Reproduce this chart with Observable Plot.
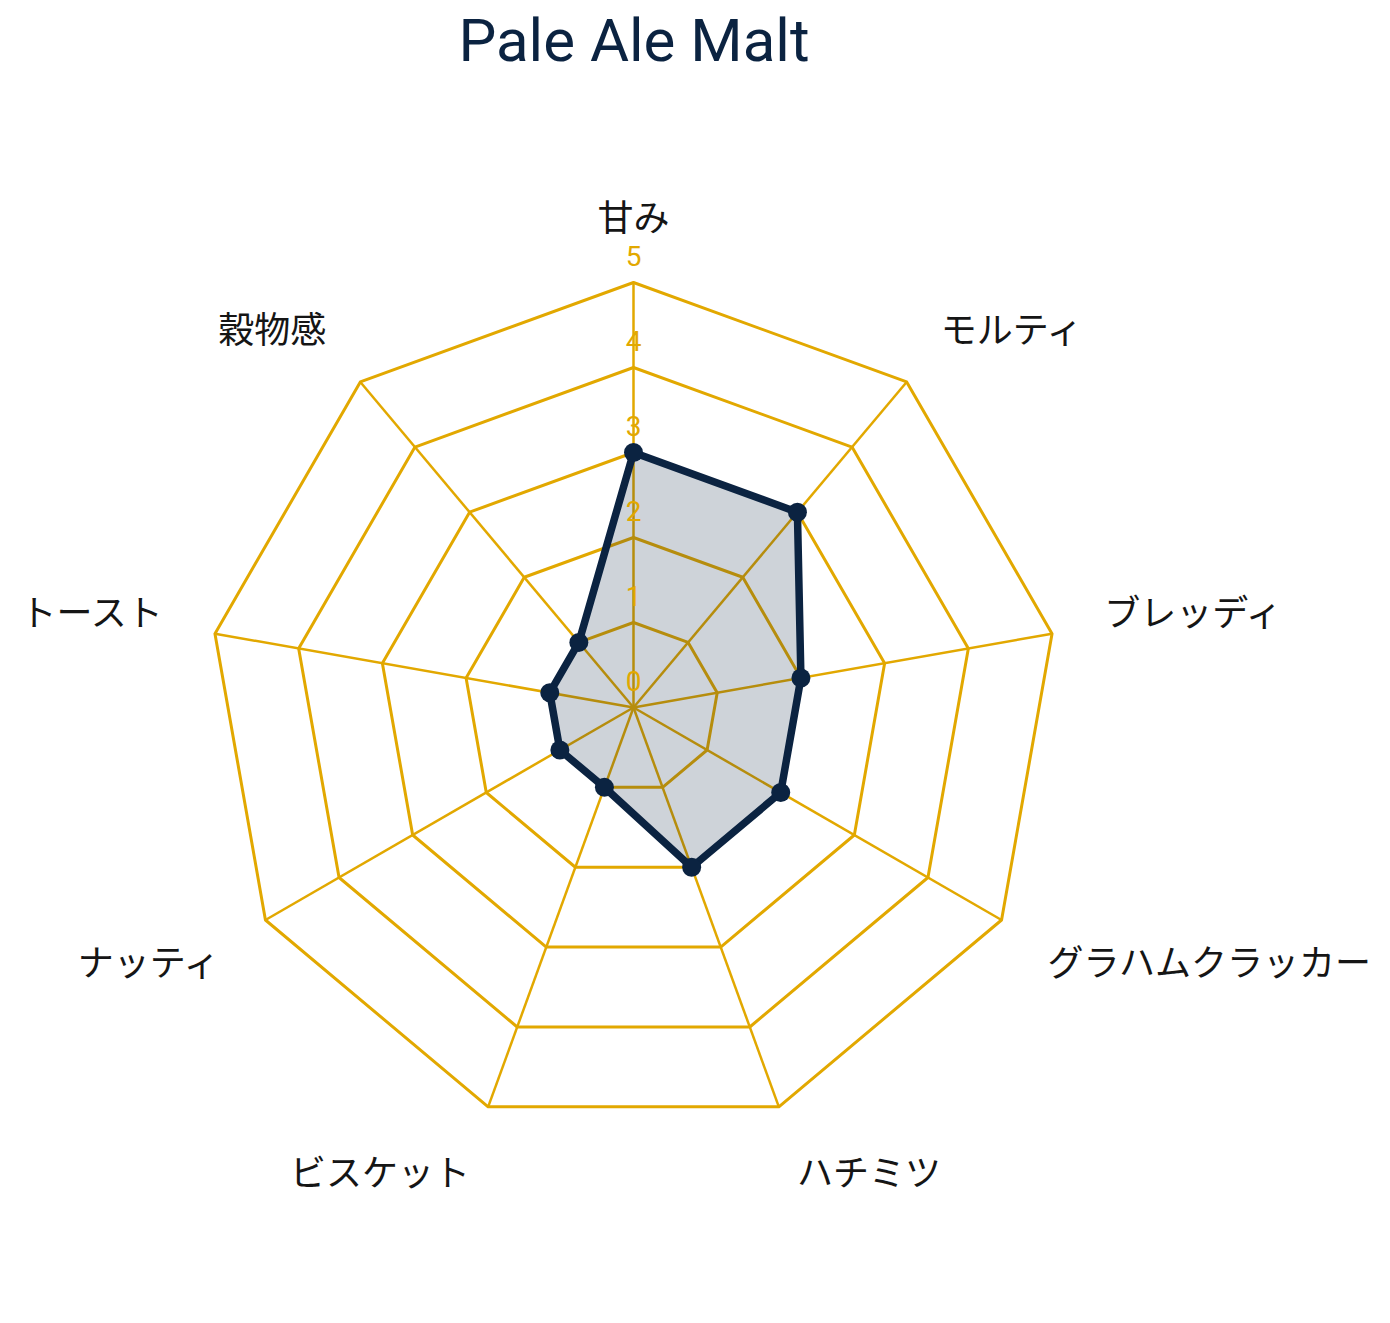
<!DOCTYPE html>
<html>
<head>
<meta charset="utf-8">
<script src="https://cdn.jsdelivr.net/npm/d3@7"></script>
<script src="https://cdn.jsdelivr.net/npm/@observablehq/plot@0.6"></script>
<style>
  html, body { margin: 0; padding: 0; background: #fff; }
  #wrap { position: relative; width: 1390px; height: 1323px; }
  #title { position: absolute; left: 0; top: 5px; width: 1268px; text-align: center;
    font-family: Roboto, "Noto Sans", sans-serif; font-size: 60px; color: #0B2341; line-height: 72px; }
  #chart svg { display: block; }
</style>
</head>
<body>
<div id="wrap">
  <div id="chart"></div>
  <div id="title">Pale Ale Malt</div>
</div>
<script>
const categories = ["甘み", "モルティ", "ブレッディ", "グラハムクラッカー", "ハチミツ", "ビスケット", "ナッティ", "トースト", "穀物感"];
const values = [3, 3, 2, 2, 2, 1, 1, 1, 1];
const ticks = [0, 1, 2, 3, 4, 5];
const maxValue = 5;

const gold = "#E2A800";
const navy = "#0B2341";

const W = 1390, H = 1323, cx = 633, cy = 707, unit = 85;

const n = categories.length;
const angle = i => (2 * Math.PI * i) / n;
const px = (r, i) => r * Math.sin(angle(i));
const py = (r, i) => r * Math.cos(angle(i));

const rings = [];
for (const t of ticks.filter(t => t > 0)) {
  categories.forEach((c, i) => rings.push({ r: t, x: px(t, i), y: py(t, i) }));
}
const spokes = categories.map((c, i) => ({ x: px(maxValue, i), y: py(maxValue, i) }));
const points = categories.map((c, i) => ({ name: c, value: values[i], x: px(values[i], i), y: py(values[i], i) }));
const labelR = 478 / unit;
const labels = categories.map((c, i) => {
  const x = px(labelR, i), y0 = py(labelR, i);
  const y = y0 + (y0 > 0 ? 10 : -18) / unit;
  return { name: c, x, y, anchor: Math.abs(x) < 0.05 ? "middle" : x > 0 ? "start" : "end" };
});

const labelFont = { fill: "#151515", fontSize: 36, fontFamily: "'Noto Sans CJK JP', sans-serif" };

const chart = Plot.plot({
  width: W,
  height: H,
  margin: 0,
  x: { domain: [-cx / unit, (W - cx) / unit], axis: null },
  y: { domain: [-(H - cy) / unit, cy / unit], axis: null },
  marks: [
    Plot.line(rings, { x: "x", y: "y", z: "r", curve: "linear-closed", stroke: gold, strokeWidth: 3 }),
    Plot.link(spokes, { x1: 0, y1: 0, x2: "x", y2: "y", stroke: gold, strokeWidth: 2.5 }),
    Plot.line(points, { x: "x", y: "y", curve: "linear-closed", fill: navy, fillOpacity: 0.2, stroke: "none" }),
    Plot.line(points, { x: "x", y: "y", curve: "linear-closed", stroke: navy, strokeWidth: 7.5, strokeLinejoin: "round" }),
    Plot.dot(points, { x: "x", y: "y", r: 9.5, fill: navy, stroke: "none" }),
    Plot.text(ticks, { x: 0, y: d => d, text: d => String(d), dy: -25, fill: gold, fontSize: 28, fontFamily: "Roboto, sans-serif" }),
    Plot.text(labels.filter(d => d.anchor === "middle"), { x: "x", y: "y", text: "name", textAnchor: "middle", ...labelFont }),
    Plot.text(labels.filter(d => d.anchor === "start"), { x: "x", y: "y", text: "name", textAnchor: "start", ...labelFont }),
    Plot.text(labels.filter(d => d.anchor === "end"), { x: "x", y: "y", text: "name", textAnchor: "end", ...labelFont })
  ]
});
document.getElementById("chart").appendChild(chart);
</script>
</body>
</html>
